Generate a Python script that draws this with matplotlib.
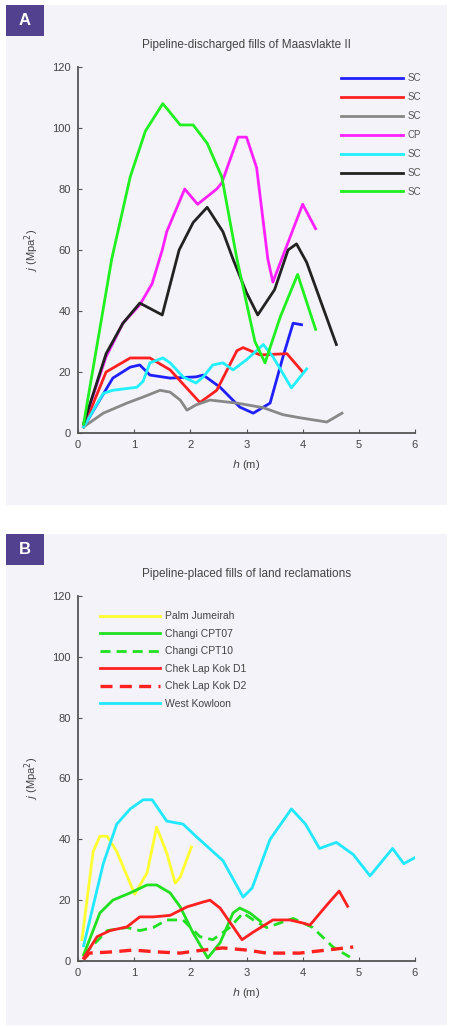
"""
Two panels: tip resistance curves of pipeline fills versus depth.
"""

import matplotlib
matplotlib.use("Agg")
import matplotlib.pyplot as plt
from matplotlib.patches import Rectangle

plt.rcParams["font.family"] = ["Liberation Sans", "DejaVu Sans"]

# ---- Panel A: Maasvlakte II ----
a_blue_x = [0.1, 0.62, 0.93, 1.1, 1.28, 1.64, 2.1, 2.23, 2.53, 2.88, 3.12, 3.42, 3.65, 3.83, 3.98]
a_blue_y = [2, 18, 21.6, 22.3, 19, 18, 18.4, 19, 15, 8.5, 6.5, 9.8, 25, 36, 35.5]

a_red_x = [0.1, 0.5, 0.93, 1.28, 1.64, 2.17, 2.47, 2.83, 2.94, 3.24, 3.72, 4.0]
a_red_y = [2, 20, 24.6, 24.6, 20.7, 10, 14, 27, 28, 25.6, 26, 20]

a_gray_x = [0.1, 0.45, 0.87, 1.16, 1.46, 1.64, 1.82, 1.94, 2.1, 2.35, 2.83, 3.3, 3.65, 3.95, 4.43, 4.7]
a_gray_y = [2, 6.5, 9.8, 11.8, 14, 13.4, 10.8, 7.5, 9.2, 10.8, 9.8, 8.3, 6, 5, 3.6, 6.5]

a_mag_x = [0.1, 0.5, 0.8, 1.1, 1.32, 1.5, 1.58, 1.9, 2.13, 2.47, 2.56, 2.85, 3.0, 3.18, 3.38, 3.47, 4.0, 4.23]
a_mag_y = [3, 25, 36, 42, 49, 60, 66, 80, 75, 80, 82, 97, 97, 87, 57, 49.5, 75, 67]

a_cyan_x = [0.1, 0.45, 0.62, 1.05, 1.16, 1.28, 1.51, 1.64, 1.87, 2.1, 2.23, 2.4, 2.58, 2.76, 3.0, 3.24, 3.3, 3.47, 3.8, 4.07]
a_cyan_y = [2, 13, 14, 15, 17, 23, 24.6, 23, 18.4, 16.4, 18.4, 22.3, 23, 20.7, 24, 28, 29, 25, 14.8, 21]

a_black_x = [0.1, 0.5, 0.8, 1.1, 1.5, 1.8, 2.05, 2.3, 2.58, 2.76, 3.0, 3.2, 3.5, 3.74, 3.89, 4.07, 4.6]
a_black_y = [3, 26, 36, 42.6, 38.7, 60, 69, 74, 66, 57, 46, 38.7, 47, 60, 62, 56, 29]

a_green_x = [0.1, 0.6, 0.93, 1.2, 1.51, 1.82, 2.05, 2.3, 2.56, 2.83, 3.15, 3.33, 3.6, 3.91, 4.23]
a_green_y = [3, 57, 84, 99, 108, 101, 101, 95, 84, 57, 30, 23, 38, 52, 34]

a_labels = ["SC", "SC", "SC", "CP", "SC", "SC", "SC"]

# ---- Panel B: land reclamations ----
b_yellow_x = [0.07, 0.27, 0.39, 0.52, 0.69, 1.01, 1.23, 1.4, 1.58, 1.73, 1.82, 2.02]
b_yellow_y = [7, 36, 41, 41, 36, 22, 29, 44, 35.5, 25.6, 27.6, 37.5]

b_green_x = [0.1, 0.39, 0.62, 0.93, 1.23, 1.4, 1.64, 1.82, 2.05, 2.31, 2.53, 2.76, 2.88, 3.06, 3.25]
b_green_y = [2, 15.8, 20, 22.4, 25, 25, 22.4, 17.8, 9.2, 1, 6, 15.8, 17.4, 15.8, 13]

b_green2_x = [0.1, 0.52, 0.87, 1.1, 1.34, 1.58, 1.87, 2.17, 2.4, 2.7, 2.94, 3.12, 3.36, 3.83, 4.18, 4.54, 4.84]
b_green2_y = [2, 10, 11, 10, 11, 13.5, 13.5, 8, 7, 11, 15.8, 13.5, 11, 14, 11, 4.6, 1.3]

b_red_x = [0.1, 0.34, 0.57, 0.87, 1.1, 1.34, 1.64, 1.94, 2.23, 2.35, 2.53, 2.92, 3.12, 3.47, 3.77, 4.0, 4.13, 4.43, 4.65, 4.8]
b_red_y = [1, 8, 10, 11.2, 14.5, 14.5, 15, 17.8, 19.4, 20, 17.4, 7, 9.5, 13.5, 13.5, 12.5, 11.8, 18.4, 23, 18]

b_red2_x = [0.1, 0.2, 0.62, 0.98, 1.4, 1.82, 2.23, 2.58, 3.0, 3.36, 3.95, 4.43, 4.9]
b_red2_y = [0.5, 2.6, 3, 3.6, 3, 2.6, 3.6, 4.3, 3.6, 2.6, 2.6, 3.6, 4.6]

b_cyan_x = [0.1, 0.45, 0.69, 0.93, 1.16, 1.32, 1.58, 1.87, 2.1, 2.58, 2.94, 3.1, 3.42, 3.8, 4.05, 4.3, 4.6, 4.9, 5.2, 5.6, 5.8, 6.0]
b_cyan_y = [5, 32, 45, 50, 53, 53, 46, 45, 41, 33, 21, 24, 40, 50, 45, 37, 39, 35, 28, 37, 32, 34]

b_labels = ["Palm Jumeirah", "Changi CPT07", "Changi CPT10",
            "Chek Lap Kok D1", "Chek Lap Kok D2", "West Kowloon"]

BG = "#f3f3f9"
TAG = "#51418f"
AXC = "#555555"

fig = plt.figure(figsize=(4.53, 10.27), dpi=100)
W, H = 453.0, 1027.0


def px_rect(x0, y0, x1, y1):
    # pixel box (top-left origin) -> figure fraction
    return [x0 / W, 1 - y1 / H, (x1 - x0) / W, (y1 - y0) / H]


def panel(y0, y1, tag):
    x, y, w, h = px_rect(6, y0, 447, y1)
    fig.patches.append(Rectangle((x, y), w, h, transform=fig.transFigure,
                                 facecolor=BG, edgecolor="none", zorder=-10))
    x, y, w, h = px_rect(6, y0, 44, y0 + 31)
    fig.patches.append(Rectangle((x, y), w, h, transform=fig.transFigure,
                                 facecolor=TAG, edgecolor="none", zorder=-5))
    fig.text(x + w / 2, y + h / 2, tag, color="white", fontsize=12,
             fontweight="bold", ha="center", va="center")


def style_axes(ax, title):
    ax.set_facecolor("none")
    ax.set_xlim(0, 6)
    ax.set_ylim(0, 120)
    ax.set_xticks(range(0, 7))
    ax.set_yticks(range(0, 121, 20))
    for s in ("top", "right"):
        ax.spines[s].set_visible(False)
    for s in ("left", "bottom"):
        ax.spines[s].set_color(AXC)
        ax.spines[s].set_linewidth(1.3)
    ax.tick_params(direction="in", length=3, color=AXC, labelsize=8,
                   labelcolor="#444444", pad=5)
    ax.set_xlabel("$h$ (m)", fontsize=8, color="#444444", labelpad=6)
    ax.set_ylabel("$j$ (Mpa$^2$)", fontsize=8, color="#444444", labelpad=8)
    ax.set_title(title, fontsize=8.5, color="#444444", pad=14)


panel(5, 505, "A")
panel(534, 1025, "B")

lw = 2.0
dash = (0, (3.6, 2.2))

# Panel A
ax = fig.add_axes(px_rect(78, 67, 415, 433))
style_axes(ax, "Pipeline-discharged fills of Maasvlakte II")
ax.plot(a_blue_x, a_blue_y, color="#1f1fff", lw=lw, label=a_labels[0])
ax.plot(a_red_x, a_red_y, color="#ff2020", lw=lw, label=a_labels[1])
ax.plot(a_gray_x, a_gray_y, color="#888888", lw=lw, label=a_labels[2])
ax.plot(a_mag_x, a_mag_y, color="#ff20ff", lw=lw, label=a_labels[3])
ax.plot(a_cyan_x, a_cyan_y, color="#20f0ff", lw=lw, label=a_labels[4])
ax.plot(a_black_x, a_black_y, color="#222222", lw=lw, label=a_labels[5])
ax.plot(a_green_x, a_green_y, color="#20f020", lw=lw, label=a_labels[6])
ax.legend(loc="upper left", bbox_to_anchor=(0.78, 0.983), frameon=False,
          borderpad=0, borderaxespad=0,
          fontsize=7, handlelength=6.4, labelspacing=0.92, handletextpad=0.5,
          labelcolor="#555555")

# Panel B
ax = fig.add_axes(px_rect(78, 596, 415, 961))
style_axes(ax, "Pipeline-placed fills of land reclamations")
ax.plot(b_yellow_x, b_yellow_y, color="#ffff30", lw=lw, label=b_labels[0])
ax.plot(b_green_x, b_green_y, color="#20e020", lw=lw, label=b_labels[1])
ax.plot(b_green2_x, b_green2_y, color="#20e020", lw=lw, ls=dash, label=b_labels[2])
ax.plot(b_red_x, b_red_y, color="#ff2020", lw=lw, label=b_labels[3])
ax.plot(b_red2_x, b_red2_y, color="#ff2020", lw=2.4, ls=dash, label=b_labels[4])
ax.plot(b_cyan_x, b_cyan_y, color="#20e8ff", lw=lw, label=b_labels[5])
ax.legend(loc="upper left", bbox_to_anchor=(0.065, 0.958), frameon=False,
          borderpad=0, borderaxespad=0,
          fontsize=7.5, handlelength=5.8, labelspacing=0.72, handletextpad=0.45,
          labelcolor="#444444")

fig.savefig("out.png", dpi=100, facecolor="white")
